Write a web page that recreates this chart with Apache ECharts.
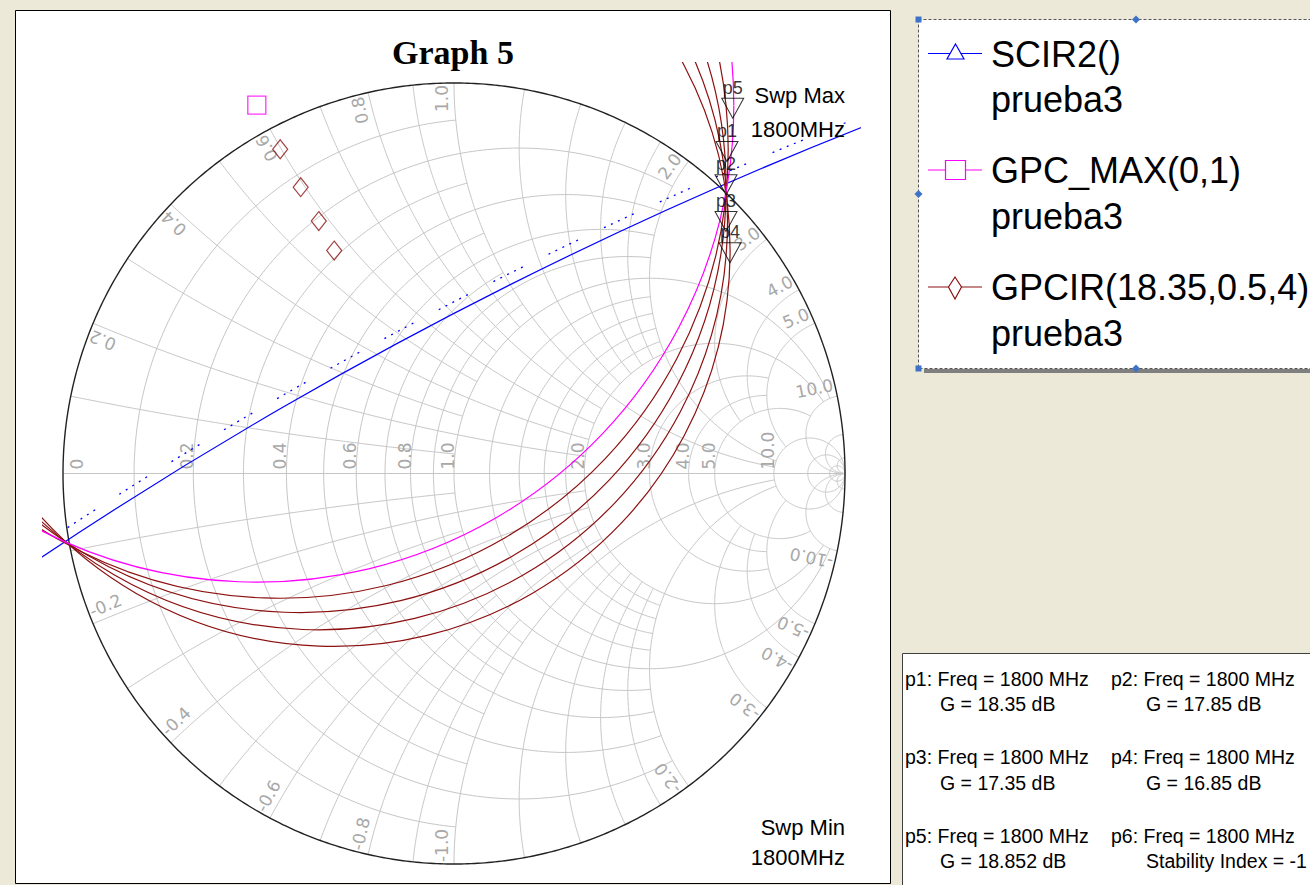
<!DOCTYPE html>
<html><head><meta charset="utf-8">
<script src="https://cdn.jsdelivr.net/npm/echarts@6/dist/echarts.min.js"></script>
<style>html,body{margin:0;padding:0;background:#ECE9D8;}#c{width:1310px;height:885px;}</style>
</head><body><div id="c"></div>
<script>
// ===== values (reflection-coefficient plane, |Γ| = 1 is the chart rim) =====
const seriesNames = ['SCIR2()', 'GPC_MAX(0,1)', 'GPCIR(18.35,0.5,4)'];
const docName = 'prueba3';
// GPC_MAX circle (centre marked by the square)
const gpcMaxCenter = [-0.5043, 0.9432];
const gpcMaxRadius = 1.2199;
// GPCIR circles, 18.35 / 17.85 / 17.35 / 16.85 dB (centres marked by diamonds)
const gpcirCenterX = [-0.4445, -0.3921, -0.3458, -0.3064];
const gpcirCenterY = [0.8304, 0.7332, 0.6463, 0.5708];
const gpcirRadius = [1.1458, 1.0880, 1.0453, 1.0125];
// stability circle SCIR2 and its dotted side indicator
const stabCenter = [5.157, -9.528];
const stabRadius = 11.185;
const stabSideRadius = 11.212;
const stabSideFrom = [-0.982, -0.148];
const stabSideTo = [1.026, 0.872];
// markers
const markerNames = ['p5', 'p1', 'p2', 'p3', 'p4'];
const markerX = [0.7128, 0.6982, 0.6957, 0.6957, 0.7059];
const markerY = [0.9097, 0.7987, 0.7136, 0.6197, 0.5396];
// Smith chart tick labels
const resistanceTicks = [0, 0.2, 0.4, 0.6, 0.8, 1.0, 2.0, 3.0, 4.0, 5.0, 10.0];
const reactanceTicks = [0.2, 0.4, 0.6, 0.8, 1.0, 2.0, 3.0, 4.0, 5.0, 10.0];
// marker read-out table
const markerTableLeft = [['p1: Freq = 1800 MHz', 'G = 18.35 dB'], ['p3: Freq = 1800 MHz', 'G = 17.35 dB'], ['p5: Freq = 1800 MHz', 'G = 18.852 dB']];
const markerTableRight = [['p2: Freq = 1800 MHz', 'G = 17.85 dB'], ['p4: Freq = 1800 MHz', 'G = 16.85 dB'], ['p6: Freq = 1800 MHz', 'Stability Index = -1']];
const sweepTexts = [['Swp Max', '1800MHz'], ['Swp Min', '1800MHz']];

// ===== Smith grid geometry (chart furniture) =====
const rSpec = [[0.1,1],[0.2,2],[0.3,1],[0.4,2],[0.5,1],[0.6,2],[0.7,1],[0.8,2],[0.9,1],[1,10],[1.2,2],[1.4,2],[1.6,2],[1.8,2],[2,10],[3,5],[4,5],[5,10],[10,Infinity],[20,Infinity],[50,Infinity]];
const xSpec = rSpec;
function gam(r, x) { const den = (r + 1) * (r + 1) + x * x; return [(r * r - 1 + x * x) / den, 2 * x / den]; }
function arc(cx, cy, rad, a0, a1, n) { const p = []; for (let i = 0; i <= n; i++) { const a = a0 + (a1 - a0) * i / n; p.push([cx + rad * Math.cos(a), cy + rad * Math.sin(a)]); } return p; }
function rCircle(r, xl) { const cx = r / (1 + r), rad = 1 / (1 + r); let a = 0; if (isFinite(xl)) { const g = gam(r, xl); a = Math.atan2(g[1], g[0] - cx); } return arc(cx, 0, rad, a, 2 * Math.PI - a, 260); }
function xArc(x, rl) { const cy = 1 / x, rad = Math.abs(1 / x); const p0 = gam(0, x), p1 = isFinite(rl) ? gam(rl, x) : [1, 0]; const a0 = Math.atan2(p0[1] - cy, p0[0] - 1), a1 = Math.atan2(p1[1] - cy, p1[0] - 1); let d = a1 - a0; while (d > Math.PI) d -= 2 * Math.PI; while (d <= -Math.PI) d += 2 * Math.PI; return arc(1, cy, rad, a0, a0 + d, 180); }
const gridLines = [];
rSpec.forEach(([r, xl]) => gridLines.push({ coords: rCircle(r, xl) }));
xSpec.forEach(([x, rl]) => { gridLines.push({ coords: xArc(x, rl) }); gridLines.push({ coords: xArc(-x, rl) }); });
gridLines.push({ coords: [[-1, 0], [1, 0]] });
const rimLine = [{ coords: arc(0, 0, 1, 0, 2 * Math.PI, 720) }];

// tick label anchors
const labelItems = [];
resistanceTicks.forEach(r => labelItems.push({ pos: [(r - 1) / (r + 1), 0], text: r === 0 ? '0' : r.toFixed(1), kind: r === 0 ? 'real0' : 'real', th: 0 }));
reactanceTicks.forEach(x => {
  [x, -x].forEach(v => { const g = gam(0, v); labelItems.push({ pos: g, text: v.toFixed(1), kind: v > 0 ? 'up' : 'low', th: Math.atan2(g[1], g[0]) }); });
});

const GRID = { left: 42, top: 62, width: 819, height: 824 };
const XR = [-1.0537, 1.0409], YR = [-1.0537, 1.0537];
const DARKRED = '#8C1010';

function circleItem(color, width) {
  return function (params, api) {
    const c = api.coord([api.value(0), api.value(1)]);
    const s = api.size([api.value(2), api.value(2)]);
    return { type: 'circle', shape: { cx: c[0], cy: c[1], r: s[0] }, style: { fill: 'none', stroke: color, lineWidth: width } };
  };
}

const chart = echarts.init(document.getElementById('c'), null, { renderer: 'svg', width: 1310, height: 885 });

// legend / panels drawn as graphics
const graphics = [];
graphics.push({ type: 'rect', z: -10, shape: { x: 15.5, y: 10.5, width: 875, height: 873 }, style: { fill: '#FFFFFF', stroke: '#000000', lineWidth: 1 } });
// legend box
graphics.push({ type: 'rect', z: 50, shape: { x: 924, y: 369, width: 420, height: 4 }, style: { fill: '#7F7F7F' } });
graphics.push({ type: 'rect', z: 51, shape: { x: 918.5, y: 19.5, width: 420, height: 349 }, style: { fill: '#FFFFFF', stroke: '#555555', lineWidth: 1, lineDash: [3, 2] } });
[[918.5, 19.5], [918.5, 368.5]].forEach(p => graphics.push({ type: 'rect', z: 52, shape: { x: p[0] - 3, y: p[1] - 3, width: 6, height: 6 }, style: { fill: '#3D72C8' } }));
[[1136, 19.5], [918.5, 194], [1136, 368.5]].forEach(p => graphics.push({ type: 'polygon', z: 52, shape: { points: [[p[0], p[1] - 4], [p[0] + 4, p[1]], [p[0], p[1] + 4], [p[0] - 4, p[1]]] }, style: { fill: '#3D72C8' } }));
const legColors = ['#0000FF', '#FF00FF', DARKRED];
const legY = [53.5, 170, 287];
legY.forEach((y, i) => {
  graphics.push({ type: 'line', z: 53, shape: { x1: 928, y1: y, x2: 982, y2: y }, style: { stroke: legColors[i], lineWidth: 1.2 } });
  let sym;
  if (i === 0) sym = { type: 'polygon', shape: { points: [[955.5, 44], [964, 59], [947, 59]] } };
  else if (i === 1) sym = { type: 'rect', shape: { x: 945.5, y: 160.5, width: 20, height: 19 } };
  else sym = { type: 'polygon', shape: { points: [[955, 277], [961.5, 287], [955, 299], [948.5, 287]] } };
  sym.z = 54; sym.style = { fill: '#FFFFFF', stroke: legColors[i], lineWidth: 1.2 };
  graphics.push(sym);
  graphics.push({ type: 'text', z: 54, x: 991, y: y + 0.5, style: { text: seriesNames[i], font: '36px "Liberation Sans", Arial', fill: '#000', align: 'left', verticalAlign: 'middle' } });
  graphics.push({ type: 'text', z: 54, x: 991, y: y + 46, style: { text: docName, font: '36px "Liberation Sans", Arial', fill: '#000', align: 'left', verticalAlign: 'middle' } });
});
// marker read-out box
graphics.push({ type: 'rect', z: 50, shape: { x: 902.5, y: 653.5, width: 420, height: 240 }, style: { fill: '#FFFFFF', stroke: '#404040', lineWidth: 1 } });
const rowY = [678.5, 757, 835.5];
rowY.forEach((y, i) => {
  [[905, 940, markerTableLeft[i]], [1111, 1146, markerTableRight[i]]].forEach(([x1, x2, t]) => {
    graphics.push({ type: 'text', z: 54, x: x1, y: y, style: { text: t[0], font: '19.5px "Liberation Sans", Arial', fill: '#000', verticalAlign: 'middle' } });
    graphics.push({ type: 'text', z: 54, x: x2, y: y + 25.5, style: { text: t[1], font: '19.5px "Liberation Sans", Arial', fill: '#000', verticalAlign: 'middle' } });
  });
});
// title and sweep notes
graphics.push({ type: 'text', z: 60, x: 453, y: 52, style: { text: 'Graph 5', font: 'bold 34px "Liberation Serif", "Times New Roman"', fill: '#000', align: 'center', verticalAlign: 'middle' } });
[[95.5, 129.5], [827, 857]].forEach((ys, i) => {
  graphics.push({ type: 'text', z: 60, x: 845, y: ys[0], style: { text: sweepTexts[i][0], font: '22px "Liberation Sans", Arial', fill: '#000', align: 'right', verticalAlign: 'middle' } });
  graphics.push({ type: 'text', z: 60, x: 845, y: ys[1], style: { text: sweepTexts[i][1], font: '22px "Liberation Sans", Arial', fill: '#000', align: 'right', verticalAlign: 'middle' } });
});

const option = {
  animation: false,
  backgroundColor: '#ECE9D8',
  grid: GRID,
  xAxis: { type: 'value', min: XR[0], max: XR[1], show: false },
  yAxis: { type: 'value', min: YR[0], max: YR[1], show: false },
  graphic: graphics,
  series: [
    { type: 'lines', coordinateSystem: 'cartesian2d', polyline: true, silent: true, z: 1, data: gridLines, lineStyle: { color: '#C6C6C6', width: 1, opacity: 1 } },
    { type: 'lines', coordinateSystem: 'cartesian2d', polyline: true, silent: true, z: 1, data: rimLine, lineStyle: { color: '#222222', width: 1.4, opacity: 1 } },
    { type: 'custom', coordinateSystem: 'cartesian2d', silent: true, z: 1, clip: false,
      data: labelItems.map(d => d.pos),
      encode: { x: 0, y: 1 },
      renderItem: function (params, api) {
        const it = labelItems[params.dataIndex];
        const p = api.coord([api.value(0), api.value(1)]);
        let x = p[0], y = p[1], rot, align = 'left';
        const c = Math.cos(it.th), s = Math.sin(it.th);
        if (it.kind === 'real' || it.kind === 'real0') { x += it.kind === 'real0' ? 23 : 2.5; y -= 4; rot = Math.PI / 2; }
        else if (it.kind === 'up') { x += -2 * c - 3.5 * s; y += 2 * s - 3.5 * c; rot = it.th; align = 'right'; }
        else { x += -2 * c + 3.5 * s; y += 2 * s + 3.5 * c; rot = it.th + Math.PI; }
        return { type: 'text', x: x, y: y, rotation: rot, style: { text: it.text, font: '17px "DejaVu Sans"', fill: '#A8A8A8', align: align, verticalAlign: 'bottom' } };
      } },
    { type: 'custom', name: seriesNames[0], coordinateSystem: 'cartesian2d', clip: true, silent: true, z: 3,
      data: [[stabCenter[0], stabCenter[1], stabRadius]], encode: { x: 0, y: 1 }, renderItem: circleItem('#0000FF', 1.2) },
    { type: 'custom', name: seriesNames[0], coordinateSystem: 'cartesian2d', clip: true, silent: true, z: 3,
      data: [[stabCenter[0], stabCenter[1], stabSideRadius]], encode: { x: 0, y: 1 },
      renderItem: function (params, api) {
        const c = api.coord([api.value(0), api.value(1)]);
        const r = api.size([api.value(2), api.value(2)])[0];
        const a = api.coord(stabSideFrom), b = api.coord(stabSideTo);
        const a0 = Math.atan2(a[1] - c[1], a[0] - c[0]), a1 = Math.atan2(b[1] - c[1], b[0] - c[0]);
        return { type: 'arc', shape: { cx: c[0], cy: c[1], r: r, startAngle: a0, endAngle: a1, clockwise: true }, style: { fill: 'none', stroke: '#0000FF', lineWidth: 1.3, lineDash: [2, 5.7, 2, 5.7, 2, 5.7, 2, 5.7, 2, 28.7] } };
      } },
    { type: 'custom', name: seriesNames[1], coordinateSystem: 'cartesian2d', clip: true, silent: true, z: 4,
      data: [[gpcMaxCenter[0], gpcMaxCenter[1], gpcMaxRadius]], encode: { x: 0, y: 1 }, renderItem: circleItem('#FF00FF', 1.2) },
    { type: 'custom', name: seriesNames[2], coordinateSystem: 'cartesian2d', clip: true, silent: true, z: 3,
      data: gpcirCenterX.map((x, i) => [x, gpcirCenterY[i], gpcirRadius[i]]), encode: { x: 0, y: 1 }, renderItem: circleItem(DARKRED, 1.2) },
    { type: 'scatter', name: seriesNames[1], silent: true, z: 5, symbol: 'rect', symbolSize: 18,
      itemStyle: { color: 'rgba(0,0,0,0)', borderColor: '#FF00FF', borderWidth: 1.3 }, data: [gpcMaxCenter] },
    { type: 'scatter', name: seriesNames[2], silent: true, z: 5, symbol: 'diamond', symbolSize: [15, 19],
      itemStyle: { color: 'rgba(0,0,0,0)', borderColor: DARKRED, borderWidth: 1.2 }, data: gpcirCenterX.map((x, i) => [x, gpcirCenterY[i]]) },
    { type: 'scatter', silent: true, z: 6, symbol: 'path://M0 0 L22 0 L11 20 Z', symbolSize: [22, 20], symbolOffset: [0, -10],
      itemStyle: { color: 'rgba(0,0,0,0)', borderColor: '#000000', borderWidth: 1 },
      label: { show: true, position: 'top', distance: 1, formatter: '{b}', color: '#000', fontSize: 18, fontFamily: '"Liberation Sans", Arial' },
      data: markerX.map((x, i) => ({ name: markerNames[i], value: [x, markerY[i]] })) }
  ]
};
chart.setOption(option);
</script></body></html>
